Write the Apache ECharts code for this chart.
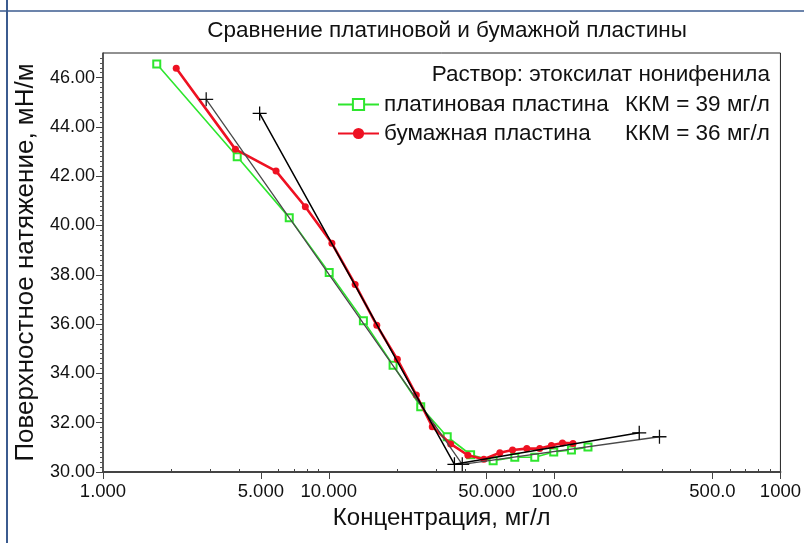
<!DOCTYPE html>
<html>
<head>
<meta charset="utf-8">
<script src="https://cdn.jsdelivr.net/npm/echarts@6/dist/echarts.min.js"></script>
<style>
html,body{margin:0;padding:0;background:#fff;}
#chart{width:804px;height:543px;}
</style>
</head>
<body>
<div id="chart"></div>
<script>
// ---- data ----
const seriesNames = ['платиновая пластина', 'бумажная пластина'];
const cmcLabels = ['ККМ = 39 мг/л', 'ККМ = 36 мг/л'];

const platinumConc = [1.73, 3.93, 6.68, 10.04, 14.23, 19.26, 25.53, 33.45, 42.46, 53.43, 66.63, 81.66, 99.1, 118.7, 140.5];
const platinumTension = [46.55, 42.79, 40.32, 38.09, 36.14, 34.33, 32.65, 31.43, 30.70, 30.46, 30.60, 30.60, 30.81, 30.89, 31.01];

const paperConc = [2.11, 3.86, 5.84, 7.87, 10.32, 13.08, 16.31, 20.12, 24.41, 28.72, 34.64, 41.3, 48.6, 57.2, 65.1, 75.3, 85.9, 96.8, 108.3, 120.6];
const paperTension = [46.38, 43.09, 42.21, 40.76, 39.28, 37.61, 35.95, 34.57, 33.12, 31.84, 31.14, 30.68, 30.52, 30.78, 30.89, 30.95, 30.95, 31.08, 31.18, 31.16];

// tangent lines (CMC construction)
const platinumFitConc = [2.864, 39, 291.3];
const platinumFitTension = [45.12, 30.31, 31.43];
const paperFitConc = [4.94, 36, 237];
const paperFitTension = [44.55, 30.31, 31.59];

const xMajorTicks = [1, 5, 10, 50, 100, 500, 1000];
const xMajorLabels = ['1.000', '5.000', '10.000', '50.000', '100.0', '500.0', '1000'];
const xMinorTicks = [2, 3, 4, 6, 7, 8, 9, 20, 30, 40, 60, 70, 80, 90, 200, 300, 400, 600, 700, 800, 900];
const yTicks = [30, 32, 34, 36, 38, 40, 42, 44, 46];

const titleText = 'Сравнение платиновой и бумажной пластины';
const solutionText = 'Раствор: этоксилат нонифенила';
const xName = 'Концентрация, мг/л';
const yName = 'Поверхностное натяжение, мН/м';

// ---- chart ----
const pairs = (xs, ys) => xs.map((x, i) => [x, ys[i]]);
const plusPath = 'path://M-0.09,-1 H0.09 V-0.09 H1 V0.09 H0.09 V1 H-0.09 V0.09 H-1 V-0.09 H-0.09 Z';
const FONT = "'Liberation Sans', Arial, sans-serif";

const chart = echarts.init(document.getElementById('chart'), null, {renderer: 'canvas'});
chart.setOption({
  animation: false,
  backgroundColor: '#fff',
  title: [
    {text: titleText, left: 442, top: 14, textAlign: 'center',
     textStyle: {fontFamily: FONT, fontSize: 22.5, fontWeight: 'normal', color: '#111'}},
    {text: solutionText, right: 29, top: 58,
     textStyle: {fontFamily: FONT, fontSize: 22.5, fontWeight: 'normal', color: '#111'}}
  ],
  legend: {
    data: seriesNames,
    orient: 'vertical',
    left: 332, top: 88,
    itemWidth: 41, itemHeight: 14, itemGap: 6,
    formatter: name => {
      const i = seriesNames.indexOf(name);
      return '{n|' + name + '}{k|' + cmcLabels[i] + '}';
    },
    textStyle: {
      fontFamily: FONT, fontSize: 22.5, color: '#111',
      rich: {
        n: {fontFamily: FONT, fontSize: 22.5, color: '#111', width: 241, lineHeight: 24},
        k: {fontFamily: FONT, fontSize: 22.5, color: '#111', lineHeight: 24}
      }
    }
  },
  graphic: [
    {type: 'line', shape: {x1: 7, y1: 0, x2: 7, y2: 543}, style: {stroke: '#3b5b8f', lineWidth: 2}},
    {type: 'line', shape: {x1: 0, y1: 11, x2: 804, y2: 11}, style: {stroke: '#3b5b8f', lineWidth: 1.5}}
  ],
  grid: {left: 103, right: 22, top: 53, bottom: 71, show: true, borderColor: '#222', borderWidth: 1, backgroundColor: 'transparent'},
  xAxis: [
    {
      type: 'log', logBase: 10, min: 1, max: 1000, gridIndex: 0,
      name: xName, nameLocation: 'middle', nameGap: 32,
      nameTextStyle: {fontFamily: FONT, fontSize: 24, color: '#111'},
      axisLine: {show: true, lineStyle: {color: '#444', width: 2}},
      axisTick: {show: true, inside: false, length: 7, customValues: xMajorTicks, lineStyle: {color: '#444', width: 1}},
      axisLabel: {
        customValues: xMajorTicks, margin: 10,
        fontFamily: FONT, fontSize: 18.5, color: '#111',
        formatter: v => {
          for (let i = 0; i < xMajorTicks.length; i++) {
            if (Math.abs(Math.log10(v) - Math.log10(xMajorTicks[i])) < 1e-6) return xMajorLabels[i];
          }
          return '';
        }
      },
      splitLine: {show: false}, minorTick: {show: false}, minorSplitLine: {show: false}
    },
    {
      type: 'log', logBase: 10, min: 1, max: 1000, gridIndex: 0, position: 'bottom',
      axisLine: {show: false},
      axisTick: {show: true, inside: true, length: 3, customValues: xMinorTicks, lineStyle: {color: '#444', width: 1}},
      axisLabel: {show: false},
      splitLine: {show: false}
    }
  ],
  yAxis: {
    type: 'value', min: 30, max: 47, interval: 2,
    name: yName, nameLocation: 'middle', nameGap: 60,
    nameTextStyle: {fontFamily: FONT, fontSize: 26, color: '#111'},
    axisLine: {show: true, lineStyle: {color: '#444', width: 1.5}},
    axisTick: {show: true, inside: false, length: 7, customValues: yTicks, lineStyle: {color: '#444'}},
    minorTick: {show: true, splitNumber: 10, length: 3, lineStyle: {color: '#555'}},
    axisLabel: {customValues: yTicks, margin: 8, fontFamily: FONT, fontSize: 18, color: '#111',
      formatter: v => Number(v).toFixed(2)},
    splitLine: {show: false}
  },
  series: [
    {
      name: seriesNames[0], type: 'line', xAxisIndex: 0,
      data: pairs(platinumConc, platinumTension),
      symbol: 'emptyRect', symbolSize: 7,
      lineStyle: {color: '#2ee62e', width: 1.6},
      itemStyle: {color: '#2ee62e', borderWidth: 1.2},
      z: 2
    },
    {
      name: seriesNames[1], type: 'line', xAxisIndex: 0,
      data: pairs(paperConc, paperTension),
      symbol: 'circle', symbolSize: 7,
      lineStyle: {color: '#ee1122', width: 2.6},
      itemStyle: {color: '#ee1122'},
      z: 3
    },
    {
      name: 'fit-platinum', type: 'line', xAxisIndex: 0,
      data: pairs(platinumFitConc, platinumFitTension),
      symbol: plusPath, symbolSize: 14,
      lineStyle: {color: '#4a4a4a', width: 1.3},
      itemStyle: {color: '#111'},
      z: 4
    },
    {
      name: 'fit-paper', type: 'line', xAxisIndex: 0,
      data: pairs(paperFitConc, paperFitTension),
      symbol: plusPath, symbolSize: 14,
      lineStyle: {color: '#000', width: 1.5},
      itemStyle: {color: '#000'},
      z: 5
    }
  ]
});
</script>
</body>
</html>
